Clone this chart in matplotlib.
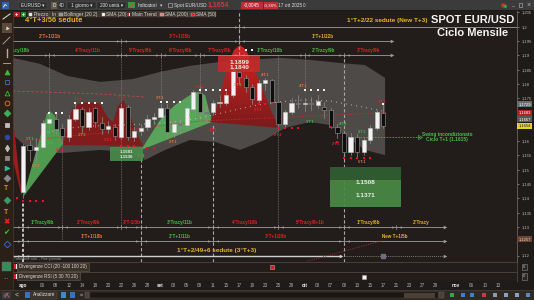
import numpy as np
import matplotlib
matplotlib.use("Agg")
import matplotlib.pyplot as plt
from matplotlib.patches import Rectangle, Polygon
from matplotlib.ticker import FuncFormatter
from matplotlib.colors import LinearSegmentedColormap

plt.rcParams['font.family'] = ['Liberation Sans', 'DejaVu Sans']

# daily EUR/USD candles, 1 ago -> 17 ott 2025 (candle index 0..55)
opens = [1.1422, 1.1585, 1.1570, 1.1579, 1.1663, 1.1677, 1.1646, 1.1614, 1.1677, 1.1712,
         1.1649, 1.1716, 1.1663, 1.1642, 1.1649, 1.1614, 1.1719, 1.1614, 1.1635, 1.1649,
         1.1677, 1.1684, 1.1716, 1.1631, 1.1660, 1.1656, 1.1712, 1.1768, 1.1702, 1.1702,
         1.1733, 1.1733, 1.1761, 1.1842, 1.1821, 1.1789, 1.1744, 1.1803, 1.1814, 1.1737,
         1.1660, 1.1702, 1.1733, 1.1730, 1.1733, 1.1726, 1.1719, 1.1709, 1.1649, 1.1628,
         1.1562, 1.1614, 1.1562, 1.1604, 1.1646, 1.1698]
highs = [1.1590, 1.1600, 1.1612, 1.1675, 1.1698, 1.1700, 1.1660, 1.1690, 1.1730, 1.1718,
         1.1715, 1.1720, 1.1685, 1.1670, 1.1660, 1.1730, 1.1725, 1.1650, 1.1660, 1.1690,
         1.1700, 1.1730, 1.1730, 1.1675, 1.1680, 1.1725, 1.1780, 1.1790, 1.1720, 1.1745,
         1.1760, 1.1770, 1.1870, 1.1880, 1.1830, 1.1800, 1.1815, 1.1820, 1.1818, 1.1740,
         1.1710, 1.1750, 1.1760, 1.1750, 1.1755, 1.1760, 1.1735, 1.1715, 1.1660, 1.1635,
         1.1630, 1.1625, 1.1615, 1.1655, 1.1710, 1.1725]
lows = [1.1400, 1.1530, 1.1528, 1.1575, 1.1630, 1.1625, 1.1590, 1.1600, 1.1670, 1.1630,
        1.1640, 1.1650, 1.1625, 1.1630, 1.1605, 1.1607, 1.1605, 1.1600, 1.1620, 1.1640,
        1.1660, 1.1675, 1.1610, 1.1615, 1.1630, 1.1640, 1.1700, 1.1690, 1.1670, 1.1690,
        1.1720, 1.1725, 1.1755, 1.1800, 1.1770, 1.1730, 1.1730, 1.1780, 1.1730, 1.1645,
        1.1650, 1.1695, 1.1715, 1.1705, 1.1710, 1.1715, 1.1680, 1.1645, 1.1610, 1.1545,
        1.1550, 1.1545, 1.1550, 1.1595, 1.1640, 1.1645]
closes = [1.1583, 1.1570, 1.1578, 1.1663, 1.1677, 1.1642, 1.1618, 1.1677, 1.1712, 1.1653,
          1.1702, 1.1667, 1.1642, 1.1653, 1.1618, 1.1716, 1.1614, 1.1635, 1.1646, 1.1677,
          1.1684, 1.1716, 1.1631, 1.1660, 1.1656, 1.1716, 1.1772, 1.1702, 1.1698, 1.1733,
          1.1737, 1.1761, 1.1856, 1.1824, 1.1789, 1.1747, 1.1803, 1.1814, 1.1737, 1.1660,
          1.1702, 1.1733, 1.1730, 1.1733, 1.1730, 1.1740, 1.1709, 1.1649, 1.1628, 1.1562,
          1.1614, 1.1562, 1.1604, 1.1646, 1.1702, 1.1653]

date_pos = [0, 3, 5, 7, 9, 11, 13, 15, 17, 19, 21, 23, 25, 27, 29, 31, 33, 35, 37, 39,
            41, 43, 45, 47, 49, 51, 53, 55, 57, 59, 61, 63, 66, 68.5, 70.5, 72.5]
date_lbl = ['ago', '06', '08', '12', '14', '18', '20', '22', '26', '28', 'set', '03', '05',
            '09', '11', '15', '17', '19', '23', '25', '29', 'ott', '03', '07', '09', '13',
            '15', '17', '21', '23', '27', '29', 'nov', '06', '10', '13']

# Bollinger (20 2) envelope
bb_up_x = [-1.53, 2.6, 6.72, 11.76, 16.79, 20.92, 25.5, 30.08, 34.66, 39.24, 43.82, 48.4, 52.21, 55.27]
bb_up = [1.1891, 1.1870, 1.1828, 1.1807, 1.1817, 1.1842, 1.1863, 1.1877, 1.1884, 1.1891,
         1.1884, 1.1873, 1.1866, 1.1821]
bb_lo_x = [-1.53, 1.07, 5.65, 11.76, 16.34, 18.63, 21.68, 25.5, 29.31, 33.13, 36.95, 40.0,
           43.82, 46.87, 49.16, 52.21, 55.27]
bb_lo = [1.1621, 1.1569, 1.1558, 1.1569, 1.1562, 1.1534, 1.1569, 1.1604, 1.1597, 1.1569,
         1.1604, 1.1646, 1.1667, 1.1656, 1.1621, 1.1569, 1.1551]

sma20_x = [3, 7, 11, 15, 19, 23, 27, 31, 35, 39, 43, 47, 51, 55]
sma20 = [1.1628, 1.1646, 1.1653, 1.1656, 1.1660, 1.1667, 1.1681, 1.1702, 1.1723, 1.1737,
         1.1744, 1.1740, 1.1723, 1.1705]
sma200_x = [-1.53, 11.76, 18.6]
sma200 = [1.1775, 1.1765, 1.1754]
trend_x = [-0.46, 11.76, 27.0, 55.5]
trend = [1.1600, 1.1628, 1.1670, 1.1700]

# Tracy cycle shading (candle index, price)
redL_x = [-1.53, -1.53, -0.15]
redL_y = [1.1674, 1.1534, 1.1401]
green1_x = [0, 3.66, 4.12, 4.89, 6.1]
green1_y = [1.1404, 1.1698, 1.1705, 1.1688, 1.1590]
red2_x = [6.11, 6.72, 7.48, 8.40, 10.23, 11.76, 12.98, 13.74, 14.5, 15.27, 16.03, 17.1, 18.32]
red2_y = [1.1586, 1.1656, 1.1709, 1.1730, 1.1737, 1.1730, 1.1681, 1.1667, 1.1723, 1.1744,
          1.1716, 1.1639, 1.1583]
green3_x = [18.02, 20.92, 23.2, 25.5, 26.7, 27.8, 28.85]
green3_y = [1.1569, 1.1674, 1.1726, 1.1761, 1.1772, 1.1761, 1.1667]
red4_x = [28.55, 29.77, 30.69, 31.45, 32.21, 33.13, 34.05, 35.27, 36.49, 37.71, 39.08]
red4_y = [1.1667, 1.1726, 1.1814, 1.1877, 1.1919, 1.1936, 1.1919, 1.1856, 1.1786, 1.1716, 1.1646]

# target zones
zone_x0 = [29.8, 13.3, 46.9]
zone_x1 = [36.2, 18.3, 57.7]
zone_lo = [1.1840, 1.1530, 1.1371]
zone_hi = [1.1899, 1.1581, 1.1508]

red_dot_x = [-0.9, 0, 1, 2, 3, 15, 16, 17, 19, 20, 36, 37, 38, 39, 40, 41, 42, 47, 48,
             49, 50, 51, 52, 53]
red_dot_y = [1.1400, 1.1391, 1.1391, 1.1391, 1.1391, 1.1583, 1.1583, 1.1583, 1.1576, 1.1576,
             1.1729, 1.1729, 1.1729, 1.1646, 1.1646, 1.1646, 1.1646, 1.1649, 1.1597,
             1.1541, 1.1541, 1.1541, 1.1541, 1.1541]
white_dot_x = [4, 5, 6, 8, 9, 10, 11, 12, 21, 22, 23, 24, 27, 28, 29, 30, 31, 34, 35,
               43, 44, 45, 46, 55]
white_dot_y = [1.1698, 1.1698, 1.1698, 1.1733, 1.1733, 1.1733, 1.1733, 1.1733, 1.1737,
               1.1737, 1.1737, 1.1737, 1.1779, 1.1779, 1.1779, 1.1779, 1.1779, 1.1919,
               1.1919, 1.1779, 1.1779, 1.1779, 1.1779, 1.1730]

tag_text = ['1°T.1', '1°T.2', '1°T.2', '2°T.1', '2°T.2', '1°T.1', '3°T.1', '5°T.1', '1°T.1',
            '3°T.1', '2°T.1', '2°T.1', '3°T.1', '2°T.1', '1°T.1', '4°T.1', '2°T.2', '2°T.2',
            '4°T.1', '1°T.1', '2°T.1', '4°T.1', '2°T.1', '5°T.1', '3°T.1']
tag_x = [1.0, 4.0, 2.0, 8.4, 5.6, 9.0, 13.0, 15.1, 18.0, 20.9, 22.9, 26.0, 27.0, 29.0, 32.8,
         36.9, 35.9, 38.9, 42.7, 43.8, 47.8, 48.9, 51.8, 51.8, 54.8]
tag_y = [1.1607, 1.1593, 1.1513, 1.1747, 1.1569, 1.1621, 1.1604, 1.1754, 1.1548, 1.1751,
         1.1597, 1.1691, 1.1789, 1.1639, 1.1796, 1.1831, 1.1709, 1.1621, 1.1793, 1.1667,
         1.1590, 1.1660, 1.1632, 1.1527, 1.1737]
tag_kind = ['g', 'g', 'o', 'r', 'r', 'g', 'r', 'r', 'o', 'o', 'o', 'g', 'r', 'r', 'g', 'o',
            'r', 'r', 'o', 'g', 'r', 'g', 'g', 'o', 'r']

# cycle rulers: level, marker candles, labels
row1_level, row1_marks = 1.1999, [33]
row2_level, row2_marks = 1.1950, [15, 33]
row2_text = ['2°T+1/21b', '3°T+1/35b', '1°T+1/22b']
row2_x = [4.1, 24, 45.8]
row2_kind = ['o', 'r', 'y']
row3_level, row3_marks = 1.1901, [4, 15, 21, 27, 33, 43, 49]
row3_text = ['4°Tracy/11b', '5°Tracy/8b', '6°Tracy/8b', '7°Tracy/8b', '1°Tracy/10b',
             '2°Tracy/9b', '3°Tracy/9b']
row3_x = [9.9, 18, 24, 30, 37.7, 45.8, 52.7]
row3_kind = ['r', 'r', 'r', 'r', 'g', 'g', 'r']
rowb1_level, rowb1_marks = 1.1300, [0, 6, 15, 18, 29, 39, 49, 57]
rowb1_text = ['1°Tracy/9b', '2°Tracy/9b', '3°T-1/3b', '3°Tracy/11b', '4°Tracy/10b',
              '5°Tracy/8+1b', '1°Tracy/6b', '2°Tracy']
rowb1_x = [3, 10, 16.6, 24, 33.9, 43.8, 52.7, 60.8]
rowb1_kind = ['g', 'r', 'r', 'g', 'r', 'r', 'y', 'y']
rowb2_level, rowb2_marks = 1.1251, [0, 18, 29, 49]
rowb2_text = ['1°T+1/18b', '2°T+1/11b', '3°T+1/20b', 'New T+1/5b']
rowb2_x = [10.5, 24, 38.6, 56.8]
rowb2_kind = ['o', 'g', 'r', 'y']
rowb3_level = 1.1198

dotted_x = [4, 6, 15, 21, 27, 39, 43]
dotted_top = [1.1901, 1.1586, 1.1950, 1.1901, 1.1901, 1.1901, 1.1901]
dotted_bot = [1.1701, 1.1251, 1.1300, 1.1744, 1.1786, 1.1300, 1.1772]
dashed_x = [18, 29, 33, 49]
dashed_top = [1.1569, 1.1656, 1.2058, 1.1901]
dashed_bot = [1.1177, 1.1177, 1.1901, 1.1177]

swing_level = 1.1615
newt_x = [43.4, 54.7]
newt_y = [1.1180, 1.1251]

last_vals = [1.1729, 1.1683, 1.1667, 1.1654]

COL = {'g': '#45c045', 'r': '#e52222', 'o': '#ea7a3c', 'y': '#e6b42e'}

W, H = 534, 300
fig = plt.figure(figsize=(W / 100, H / 100), dpi=100, facecolor='#1f1b18')


def px_box(x, y, w, h):
    return [x / W, 1 - (y + h) / H, w / W, h / H]


XLIM = (-1.53, 75.42)
YLIM = (1.11773, 1.20584)
ax = fig.add_axes(px_box(13, 10, 504, 252), facecolor='#221d1a')

# band + cycle shading
ax.fill(bb_up_x + bb_lo_x[::-1], bb_up + bb_lo[::-1], color='#4d4a47', lw=0, zorder=1)
ax.fill(redL_x, redL_y, color='#9c1b1b', lw=0, zorder=2)
ax.fill(red2_x, red2_y, color='#801d1c', lw=0, zorder=2)
ax.fill(green1_x, green1_y, color='#4e9a4e', lw=0, zorder=2)
ax.fill(green3_x, green3_y, color='#5aa35a', lw=0, zorder=2)
poly = Polygon(list(zip(red4_x, red4_y)), closed=True, fc='none', ec='none')
ax.add_patch(poly)
cmap = LinearSegmentedColormap.from_list('redgrad', ['#7a1b1b', '#d62222'])
im = ax.imshow(np.linspace(0, 1, 64).reshape(-1, 1), cmap=cmap, origin='lower', aspect='auto',
               extent=[min(red4_x), max(red4_x), min(red4_y), max(red4_y)], zorder=2)
im.set_clip_path(poly)

ax.plot(sma20_x, sma20, color='#d8d8d8', lw=0.8, ls=(0, (0.6, 4)), zorder=3)
ax.plot(sma200_x, sma200, color='#c84848', lw=0.6, ls=(0, (3, 2.5)), zorder=3)
ax.plot(trend_x, trend, color='#d42a2a', lw=0.7, ls=(0, (1, 1.6)), zorder=3)

# vertical cycle lines
ax.vlines(dotted_x, dotted_bot, dotted_top, color='#8e8e8e', lw=0.5, ls=(0, (1, 1.3)), zorder=3)
ax.vlines(dashed_x, dashed_bot, dashed_top, color='#a8a8a8', lw=0.8, ls=(0, (3, 2)), zorder=3)
ax.vlines([0], [YLIM[0]], [1.1394], color='#f0f0f0', lw=1.1, ls=(0, (2, 1.3)), zorder=3)

# candles
for i in range(len(opens)):
    o, h, l, c = opens[i], highs[i], lows[i], closes[i]
    up = c >= o
    ax.plot([i, i], [l, h], color='#8e8e8e', lw=0.5, zorder=4)
    body = max(abs(c - o), 0.00012)
    ax.add_patch(Rectangle((i - 0.32, min(o, c)), 0.64, body,
                           fc='#f2f2f2' if up else '#0e0e0e',
                           ec='#c4c4c4' if up else '#9a9a9a', lw=0.4, zorder=5))

ax.plot(red_dot_x, red_dot_y, ls='none', marker='s', ms=1.9, color='#e8102a', mew=0, zorder=6)
ax.plot(white_dot_x, white_dot_y, ls='none', marker='s', ms=1.9, color='#f2f2f2', mew=0, zorder=6)

for t, x, y, k in zip(tag_text, tag_x, tag_y, tag_kind):
    ax.text(x, y, t, color=COL[k], fontsize=2.6, fontweight='bold', ha='center', va='center',
            zorder=6, clip_on=True)

# zones
zone_fc = ['#c42a2a', '#4a8c4a', '#4a8a45']
for x0, x1, lo, hi, fc in zip(zone_x0, zone_x1, zone_lo, zone_hi, zone_fc):
    ax.add_patch(Rectangle((x0, lo), x1 - x0, hi - lo, fc=fc, ec='none', alpha=0.92, zorder=6))
    fs = 3.2 if (hi - lo) < 0.006 and fc != '#c42a2a' else 4.6
    ax.text((x0 + x1) / 2, lo + 0.62 * (hi - lo), f"{hi:.4f}", color='#ececec', fontsize=fs,
            fontweight='bold', ha='center', va='center', zorder=7)
    ax.text((x0 + x1) / 2, lo + 0.28 * (hi - lo), f"{lo:.4f}", color='#ececec', fontsize=fs,
            fontweight='bold', ha='center', va='center', zorder=7)
# darker header on the big green zone
ax.add_patch(Rectangle((zone_x0[2], zone_hi[2] - 0.32 * (zone_hi[2] - zone_lo[2])),
                       zone_x1[2] - zone_x0[2], 0.32 * (zone_hi[2] - zone_lo[2]),
                       fc='#2f5a2f', ec='none', zorder=6))


def ruler(level, x0, x1, marks, color='#9e9e9e', lw=0.6, ls='-', arrow=True):
    ax.plot([x0, x1], [level, level], color=color, lw=lw, ls=ls, zorder=3)
    for m in marks:
        ax.plot([m - 0.55], [level], marker='>', ms=1.8, color=color, mew=0, zorder=3)
        ax.plot([m + 0.55], [level], marker='<', ms=1.8, color=color, mew=0, zorder=3)
        ax.plot([m, m], [level - 0.0006, level + 0.0006], color=color, lw=0.5, zorder=3)
    if arrow:
        ax.plot([x1], [level], marker='>', ms=2.6, color=color, mew=0, zorder=3)


def ruler_text(level, xs, texts, kinds, fs=3.3):
    for x, t, k in zip(xs, texts, kinds):
        ax.text(x, level + 0.0016, t, color=COL[k], fontsize=fs, fontweight='bold',
                ha='center', va='center', zorder=6, clip_on=True)


ruler(row1_level, XLIM[0], XLIM[1], row1_marks, arrow=False)
ruler(row2_level, XLIM[0], 56.3, row2_marks)
ruler_text(row2_level, row2_x, row2_text, row2_kind)
ruler(row3_level, XLIM[0], 56.3, row3_marks)
ruler_text(row3_level, row3_x, row3_text, row3_kind)
ax.text(1.1, row3_level + 0.0016, '1°Tracy/18b', color=COL['g'], fontsize=3.3,
        fontweight='bold', ha='right', va='center', clip_on=True)
ruler(rowb1_level, XLIM[0], 64.4, rowb1_marks)
ruler_text(rowb1_level, rowb1_x, rowb1_text, rowb1_kind)
ruler(rowb2_level, XLIM[0], 64.4, rowb2_marks)
ruler_text(rowb2_level, rowb2_x, rowb2_text, rowb2_kind)
ruler(rowb3_level, XLIM[0], 48.5, [0], color='#cfcfcf', lw=1.0)
ruler(rowb3_level, 49, 64.4, [], ls=(0, (1, 1.5)))
ax.plot([55], [rowb3_level], marker='s', ms=2.6, color='#6e6e7e', zorder=4)
ax.plot(newt_x, newt_y, color='#a82a2a', lw=0.7, ls=(0, (1, 1.4)), zorder=3)

ax.text(0.3, 1.2020, '4°T+3/56 sedute', color=COL['y'], fontsize=5.4, fontweight='bold',
        ha='left', va='center', zorder=7)
ax.text(55.6, 1.2022, '1°T+2/22 sedute (New T+3)', color=COL['y'], fontsize=4.6,
        fontweight='bold', ha='center', va='center', zorder=7)
ax.text(68.7, 1.2023, 'SPOT EUR/USD', color='#f4f4f4', fontsize=8, fontweight='bold',
        ha='center', va='center', zorder=7)
ax.text(68.7, 1.1977, 'Ciclo Mensile', color='#f4f4f4', fontsize=8, fontweight='bold',
        ha='center', va='center', zorder=7)
ax.text(29.5, 1.1219, '1°T+2/49+6 sedute (3°T+3)', color=COL['y'], fontsize=4.6,
        fontweight='bold', ha='center', va='center', zorder=7)

# unconditional swing
ax.plot([51, 60.6], [swing_level, swing_level], color='#4caa4c', lw=0.6, ls=(0, (2, 1.5)), zorder=3)
ax.plot([60.6], [swing_level], marker='>', ms=3, mfc='none', mec='#4caa4c', mew=0.5, zorder=3)
ax.text(64.7, swing_level + 0.0009, 'Swing incondizionato', color='#4cbc4c', fontsize=3.5,
        fontweight='bold', ha='center', va='center')
ax.text(64.7, swing_level - 0.0011, f'Ciclo T+1 ({swing_level:.4f})', color='#4cbc4c',
        fontsize=3.5, fontweight='bold', ha='center', va='center')

# price axis (1,17 / 1,165 / 1,125 sit under the value boxes)
hidden_ticks = (1.165, 1.17, 1.125)
ax.set_xlim(*XLIM)
ax.set_ylim(*YLIM)
ax.set_xticks([])
ax.set_yticks(np.round(np.arange(1.12, 1.2051, 0.005), 3))
ax.yaxis.set_major_formatter(FuncFormatter(
    lambda v, p: '' if round(v, 3) in hidden_ticks
    else f"{v:.3f}".rstrip('0').rstrip('.').replace('.', ',')))
ax.yaxis.tick_right()
ax.tick_params(axis='y', labelsize=3.0, colors='#bdbdbd', length=1.6, width=0.4, pad=1.5)
for s in ['top', 'left']:
    ax.spines[s].set_visible(False)
for s in ['right', 'bottom']:
    ax.spines[s].set_color('#6b6560')
    ax.spines[s].set_linewidth(0.6)

box_fc = ['#6c6c6c', '#b02222', '#585858', '#e8d428']
box_tc = ['#ffffff', '#ffffff', '#ffffff', '#1a1a1a']
ypos = []
prev = None
for v in sorted(last_vals):
    y = v if prev is None else max(v, prev + 0.00227)
    ypos.append((v, y))
    prev = y
for (v, y) in ypos:
    k = last_vals.index(v)
    ax.text(1.003, y, f"{v:.4f}".replace('.', ','), transform=ax.get_yaxis_transform(),
            fontsize=3.0, color=box_tc[k], ha='left', va='center', zorder=9,
            bbox=dict(boxstyle='square,pad=0.25', fc=box_fc[k], ec='none'))
ax.text(1.003, 1.1257, '1,1257', transform=ax.get_yaxis_transform(), fontsize=3.0,
        color='#e8c8b8', ha='left', va='center', zorder=9,
        bbox=dict(boxstyle='square,pad=0.25', fc='#6a4436', ec='none'))

# indicator panes
cax = fig.add_axes(px_box(13, 262, 504, 9.5), facecolor='#221d1a')
rax = fig.add_axes(px_box(13, 271.5, 504, 9.5), facecolor='#221d1a')
for pane, name, hit, hc in [(cax, 'Divergenze CCI (20 -100 100 20)', 38, '#e01818'),
                            (rax, 'Divergenze RSI (5 30 70 20)', 52, '#f4f4f4')]:
    pane.set_xlim(*XLIM)
    pane.set_ylim(0, 1)
    pane.set_xticks([])
    pane.set_yticks([])
    for s in pane.spines.values():
        s.set_color('#4e4640')
        s.set_linewidth(0.6)
    pane.spines['left'].set_visible(False)
    pane.plot([hit], [0.45], marker='s', ms=3, color=hc, mew=0.4, mec='#aaaaaa')
    pane.text(0.012, 0.5, name, transform=pane.transAxes, fontsize=3.3, color='#dcdcdc',
              ha='left', va='center',
              bbox=dict(boxstyle='square,pad=0.35', fc='#3a3129', ec='#6b5a48', lw=0.4))
    pane.add_patch(Rectangle((0.002, 0.25), 0.006, 0.5, transform=pane.transAxes,
                             fc='#e02020', ec='none', zorder=5))
    pane.add_patch(Rectangle((0.005, 0.25), 0.003, 0.5, transform=pane.transAxes,
                             fc='#f0f0f0', ec='none', zorder=5))
    pane.text(1.012, 0.5, '0', transform=pane.transAxes, fontsize=3.0, color='#cfcfcf',
              ha='left', va='center',
              bbox=dict(boxstyle='square,pad=0.3', fc='#2a2420', ec='#8a8a8a', lw=0.4))

# date axis
dax = fig.add_axes(px_box(13, 281, 504, 9), facecolor='#1f1b18')
dax.set_xlim(*XLIM)
dax.set_ylim(0, 1)
dax.set_xticks([])
dax.set_yticks([])
for s in dax.spines.values():
    s.set_visible(False)
for p, t in zip(date_pos, date_lbl):
    month = t in ('ago', 'set', 'ott', 'nov')
    dax.text(p, 0.5, t, fontsize=3.3, color='#f0f0f0' if month else '#b0b0b0',
             fontweight='bold' if month else 'normal', ha='center', va='center')

# application chrome (pixel coordinates)
ui = fig.add_axes([0, 0, 1, 1], facecolor='none', zorder=10)
ui.set_xlim(0, W)
ui.set_ylim(H, 0)
ui.axis('off')

ui.add_patch(Rectangle((0, 0), W, 10, fc='#3b3b3b', ec='none'))
ui.plot([0, W], [10, 10], color='#1a1a1a', lw=0.6)
ui.add_patch(Rectangle((1.5, 1.5), 7, 7, fc='#2f62a8', ec='none'))
ui.plot([3.5, 5, 6.5], [7, 4.5, 5.5], color='#ffffff', lw=0.6)
tb_items = [(19, 28, 'EURUSD ▾', '#e8e8e8', '#2c2c2c'), (51, 6, 'D', '#f0f0f0', '#6a5846'),
            (58, 8, '4D', '#cfcfcf', '#2c2c2c'), (67, 29, '1 giorno ▾', '#e8e8e8', '#2c2c2c'),
            (97, 29, '200 unità ▾', '#e8e8e8', '#2c2c2c'),
            (137, 21, 'Indicatori', '#e8e8e8', '#3b3b3b'), (158, 6, '▾', '#cfcfcf', '#3b3b3b'),
            (174, 33, 'Spot EUR/USD', '#e0e0e0', '#3b3b3b'),
            (279, 22, '17 ott 2025', '#e0e0e0', '#3b3b3b'), (302, 5, '0', '#cfcfcf', '#3b3b3b')]
for x, w, t, c, fc in tb_items:
    ui.add_patch(Rectangle((x, 1.5), w, 7, fc=fc, ec='#555555' if fc == '#2c2c2c' else 'none', lw=0.3))
    ui.text(x + w / 2, 5.2, t, fontsize=3.4, color=c, ha='center', va='center')
ui.add_patch(Rectangle((128, 2), 7, 6, fc='#3a9a3a', ec='none'))
ui.plot([130, 133], [6.5, 3.5], color='#e04040', lw=0.8)
ui.add_patch(Rectangle((168, 3), 4, 4, fc='none', ec='#bbbbbb', lw=0.4))
ui.text(208, 5.2, '1,1654', fontsize=5, color='#e23030', ha='left', va='center', fontweight='bold')
ui.add_patch(Rectangle((241, 1.5), 22, 7, fc='#c42a30', ec='none'))
ui.text(252, 5.2, '-0,0045', fontsize=3.4, color='#ffffff', ha='center', va='center')
ui.add_patch(Rectangle((263.5, 1.5), 14, 7, fc='#c42a30', ec='none'))
ui.text(270.5, 5.2, '-0,38%', fontsize=3.2, color='#ffffff', ha='center', va='center')
ui.plot([503], [5], marker='o', ms=3.2, color='#cc3333', mew=0)
ui.plot([505], [5.5], marker='o', ms=2.2, color='#33aa33', mew=0)
ui.text(513, 5, '_', fontsize=4, color='#bbbbbb', ha='center', va='center')
ui.add_patch(Rectangle((518.5, 3), 3.5, 3.5, fc='none', ec='#bbbbbb', lw=0.4))
ui.text(529, 5, '×', fontsize=5, color='#bbbbbb', ha='center', va='center')

# legend strip
ui.add_patch(Rectangle((14, 11.5), 5.5, 5.5, fc='#b52020', ec='none'))
ui.text(16.75, 14.2, '+', fontsize=4, color='#ffffff', ha='center', va='center', fontweight='bold')
ui.add_patch(Rectangle((20.5, 11.5), 5.5, 5.5, fc='#2a8a2a', ec='none'))
ui.text(23.25, 14.2, '+', fontsize=4, color='#ffffff', ha='center', va='center', fontweight='bold')
leg_items = [(27.5, 22, 'Prezzo', '#eeeeee'), (50, 7.5, 'lin', None),
             (58, 42, 'Bollinger (20 2)', '#8a8a8a'), (100.5, 24.5, 'SMA (20)', '#f6f6f6'),
             (125.5, 33, 'Main Trend', 'flag'), (159, 30.5, 'SMA (200)', '#e07a7a'),
             (190, 26, 'SMA (50)', '#ee1010')]
for x, w, t, sw in leg_items:
    ui.add_patch(Rectangle((x, 11.3), w, 6, fc='#3a332c', ec='#5a5048', lw=0.3))
    tx = x + 1.5
    if sw == 'flag':
        ui.add_patch(Rectangle((x + 1.2, 12.5), 1.8, 3.6, fc='#e02020', ec='none'))
        ui.add_patch(Rectangle((x + 3.0, 12.5), 1.8, 3.6, fc='#f4f4f4', ec='none'))
        tx = x + 6
    elif sw is not None:
        ui.add_patch(Rectangle((x + 1.2, 12.5), 3.6, 3.6, fc=sw, ec='#cccccc', lw=0.3))
        tx = x + 6
    ui.text(tx, 14.4, t, fontsize=3.5, color='#d8d8d8', ha='left', va='center')

# left toolbar
ui.add_patch(Rectangle((0, 10.5), 13, 279.5, fc='#2a2017', ec='none'))
ui.plot([13, 13], [10.5, 290], color='#4a3c30', lw=0.5)
ui.add_patch(Rectangle((1.5, 23), 10, 10, fc='#5b4a39', ec='none'))
ui.plot([3, 10], [19, 14], color='#d0d0d0', lw=0.8)
ui.plot([6.5], [28], marker=(3, 0, 20), ms=3.2, color='#e0e0e0', mew=0)
ui.plot([3, 10], [44, 37], color='#b0b0b0', lw=0.6)
ui.plot([6.5, 6.5], [49, 57], color='#b0b0b0', lw=1.0)
ui.plot([3, 10], [63, 63], color='#b0b0b0', lw=0.6)
icons = [(72, '^', '#3cbc3c', 'full'), (82, 's', '#3a70d0', 'none'), (93, '^', '#3cbc3c', 'none'),
         (103, 'o', '#e07a30', 'none'), (113, 'D', '#3cae5c', 'full'), (125, 's', '#bcbcbc', 'full'),
         (137, 'o', '#2a4aa8', 'full'), (148, 'd', '#bcbcbc', 'full'), (158, 's', '#8a8a8a', 'full'),
         (168, '>', '#3cb4a0', 'full'), (178, 'D', '#8a8a8a', 'full'), (200, 'D', '#3c9a6c', 'full'),
         (244, 'D', '#3a70d0', 'none')]
for y, m, c, f in icons:
    ui.plot([6.5], [y], marker=m, ms=3.4, color=c, mfc=c if f == 'full' else 'none', mew=0.6)
ui.text(6.5, 188, 'T', fontsize=5, color='#e08a20', ha='center', va='center', fontweight='bold')
ui.text(6.5, 212, 'T', fontsize=5, color='#e08a20', ha='center', va='center', fontweight='bold')
ui.text(6.5, 222, '✖', fontsize=5.5, color='#e82020', ha='center', va='center', family='DejaVu Sans')
ui.text(6.5, 233, '✔', fontsize=5.5, color='#30c030', ha='center', va='center', family='DejaVu Sans')
ui.add_patch(Rectangle((2, 262), 9, 9, fc='#3c8a5c', ec='#6a6a6a', lw=0.3))
ui.text(6.5, 279, '···', fontsize=4, color='#cccccc', ha='center', va='center')

ui.text(14, 259.3, 'Timeframe com. - Fine giornata', fontsize=2.4, color='#9a9a9a',
        ha='left', va='center')

# bottom toolbar
ui.add_patch(Rectangle((0, 290), W, 10, fc='#2f2924', ec='none'))
ui.plot([0, W], [290, 290], color='#4a4038', lw=0.5)
ui.add_patch(Rectangle((2, 291.5), 9, 7, fc='#3a3a3a', ec='none'))
ui.plot([4, 6, 9], [296, 293.5, 297], color='#d04040', lw=0.7)
ui.plot([5, 8], [297, 293], color='#4a8ad0', lw=0.7)
ui.text(17, 295, '<', fontsize=5, color='#cccccc', ha='center', va='center')
ui.add_patch(Rectangle((24.5, 292), 5, 6, fc='#3a70c0', ec='none'))
ui.add_patch(Rectangle((31, 291.5), 26, 7, fc='#3a332c', ec='#5a5048', lw=0.3))
ui.text(44, 295, 'Analizzare', fontsize=3.4, color='#e0e0e0', ha='center', va='center')
ui.add_patch(Rectangle((61, 292), 5, 6, fc='#3a8ad0', ec='none'))
ui.add_patch(Rectangle((70, 292), 5, 6, fc='#3a70c0', ec='none'))
ui.text(81, 295, '«', fontsize=4, color='#cccccc', ha='center', va='center')
ui.add_patch(Rectangle((85, 292), 4, 6, fc='#4a423a', ec='#6a6058', lw=0.3))
ui.add_patch(Rectangle((89.5, 292), 348, 6, fc='#1b1713', ec='#4a4038', lw=0.3))
ui.add_patch(Rectangle((404, 292.5), 31, 5, fc='#4a4038', ec='none'))
ui.add_patch(Rectangle((438.5, 292), 5, 6, fc='#4a423a', ec='#6a6058', lw=0.3))
bt_icons = [(452, '#3aa050'), (463, '#3a80d0'), (472, '#3a80d0'), (484, '#c04040'),
            (495, '#8a9ab0'), (506, '#8aa0c0'), (517, '#8aa0c0'), (528, '#5a8ac0')]
for x, c in bt_icons:
    ui.plot([x], [295], marker='s', ms=3.2, color=c, mew=0)

fig.savefig('out.png', dpi=100, facecolor=fig.get_facecolor())
